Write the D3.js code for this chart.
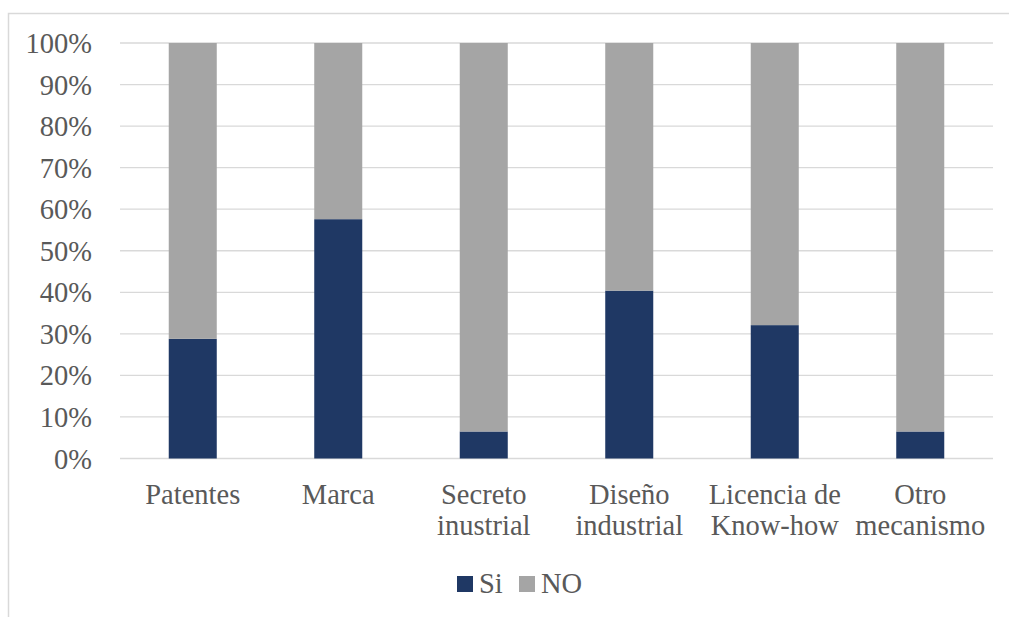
<!DOCTYPE html>
<html>
<head>
<meta charset="utf-8">
<script src="https://cdn.jsdelivr.net/npm/d3@7"></script>
<style>
  body { margin: 0; background: #fff; }
</style>
</head>
<body>
<div id="vis"></div>
<script>
// data
const CATEGORIES = [["Patentes"], ["Marca"], ["Secreto", "inustrial"], ["Diseño", "industrial"], ["Licencia de", "Know-how"], ["Otro", "mecanismo"]]
const SI = [0.288, 0.576, 0.065, 0.404, 0.321, 0.065]
const NO = SI.map(d => 1 - d)
const SERIES = ["Si", "NO"]
const Y_TICKS = [0, 0.1, 0.2, 0.3, 0.4, 0.5, 0.6, 0.7, 0.8, 0.9, 1]

const FRAME_WIDTH = 1009
const FRAME_HEIGHT = 617
const PLOT = {left: 120, right: 993, top: 43, bottom: 458.5}
const FONT = 28.5

const color = d3.scaleOrdinal().domain(SERIES).range(["#1f3864", "#a5a5a5"])

const svg = d3.select('#vis')
              .append('svg')
              .attr('width', FRAME_WIDTH)
              .attr('height', FRAME_HEIGHT)
              .attr('font-family', "'Liberation Serif', 'DejaVu Serif', serif")

// chart border (runs off the picture at right and bottom)
svg.append("rect")
   .attr("x", 8.5).attr("y", 13.5)
   .attr("width", 1020).attr("height", 640)
   .attr("fill", "none")
   .attr("stroke", "#d9d9d9")
   .attr("stroke-width", 1.5)

const x = d3.scaleBand()
            .domain(d3.range(CATEGORIES.length))
            .range([PLOT.left, PLOT.right])
            .paddingInner(0.67)
            .paddingOuter(0.335)

const y = d3.scaleLinear()
            .domain([0, 1])
            .range([PLOT.bottom, PLOT.top])

// gridlines
svg.append("g")
   .selectAll("line")
   .data(Y_TICKS)
   .enter()
   .append("line")
     .attr("x1", PLOT.left).attr("x2", PLOT.right)
     .attr("y1", d => y(d)).attr("y2", d => y(d))
     .attr("stroke", "#d9d9d9")
     .attr("stroke-width", 1.3)

// y axis labels
svg.append("g")
   .selectAll("text")
   .data(Y_TICKS)
   .enter()
   .append("text")
     .attr("x", 92)
     .attr("y", d => y(d) + 10)
     .attr("text-anchor", "end")
     .attr("font-size", FONT)
     .attr("fill", "#595959")
     .text(d => d3.format(".0%")(d))

// stacked bars
const rows = CATEGORIES.map((c, i) => ({Si: SI[i], NO: NO[i], i: i}))
const stacked = d3.stack().keys(SERIES)(rows)

svg.append("g")
   .selectAll("g")
   .data(stacked)
   .enter()
   .append("g")
     .attr("fill", d => color(d.key))
   .selectAll("rect")
   .data(d => d)
   .enter()
   .append("rect")
     .attr("x", d => x(d.data.i))
     .attr("width", x.bandwidth())
     .attr("y", d => y(d[1]))
     .attr("height", d => y(d[0]) - y(d[1]))

// category labels
const cats = svg.append("g")
   .selectAll("text")
   .data(CATEGORIES)
   .enter()
   .append("text")
     .attr("text-anchor", "middle")
     .attr("font-size", FONT)
     .attr("fill", "#595959")

cats.selectAll("tspan")
    .data((d, i) => d.map((line, j) => ({line: line, i: i, j: j})))
    .enter()
    .append("tspan")
      .attr("x", d => x(d.i) + x.bandwidth() / 2)
      .attr("y", d => 504 + d.j * 31)
      .text(d => d.line)

// legend
const LEGEND_X = [457, 519]
const legend = svg.append("g")
   .selectAll("g")
   .data(SERIES)
   .enter()
   .append("g")
     .attr("transform", (d, i) => "translate(" + LEGEND_X[i] + ",576)")

legend.append("rect")
      .attr("width", 16).attr("height", 16)
      .attr("fill", d => color(d))

legend.append("text")
      .attr("x", 22)
      .attr("y", 17)
      .attr("font-size", FONT)
      .attr("fill", "#595959")
      .text(d => d)
</script>
</body>
</html>
